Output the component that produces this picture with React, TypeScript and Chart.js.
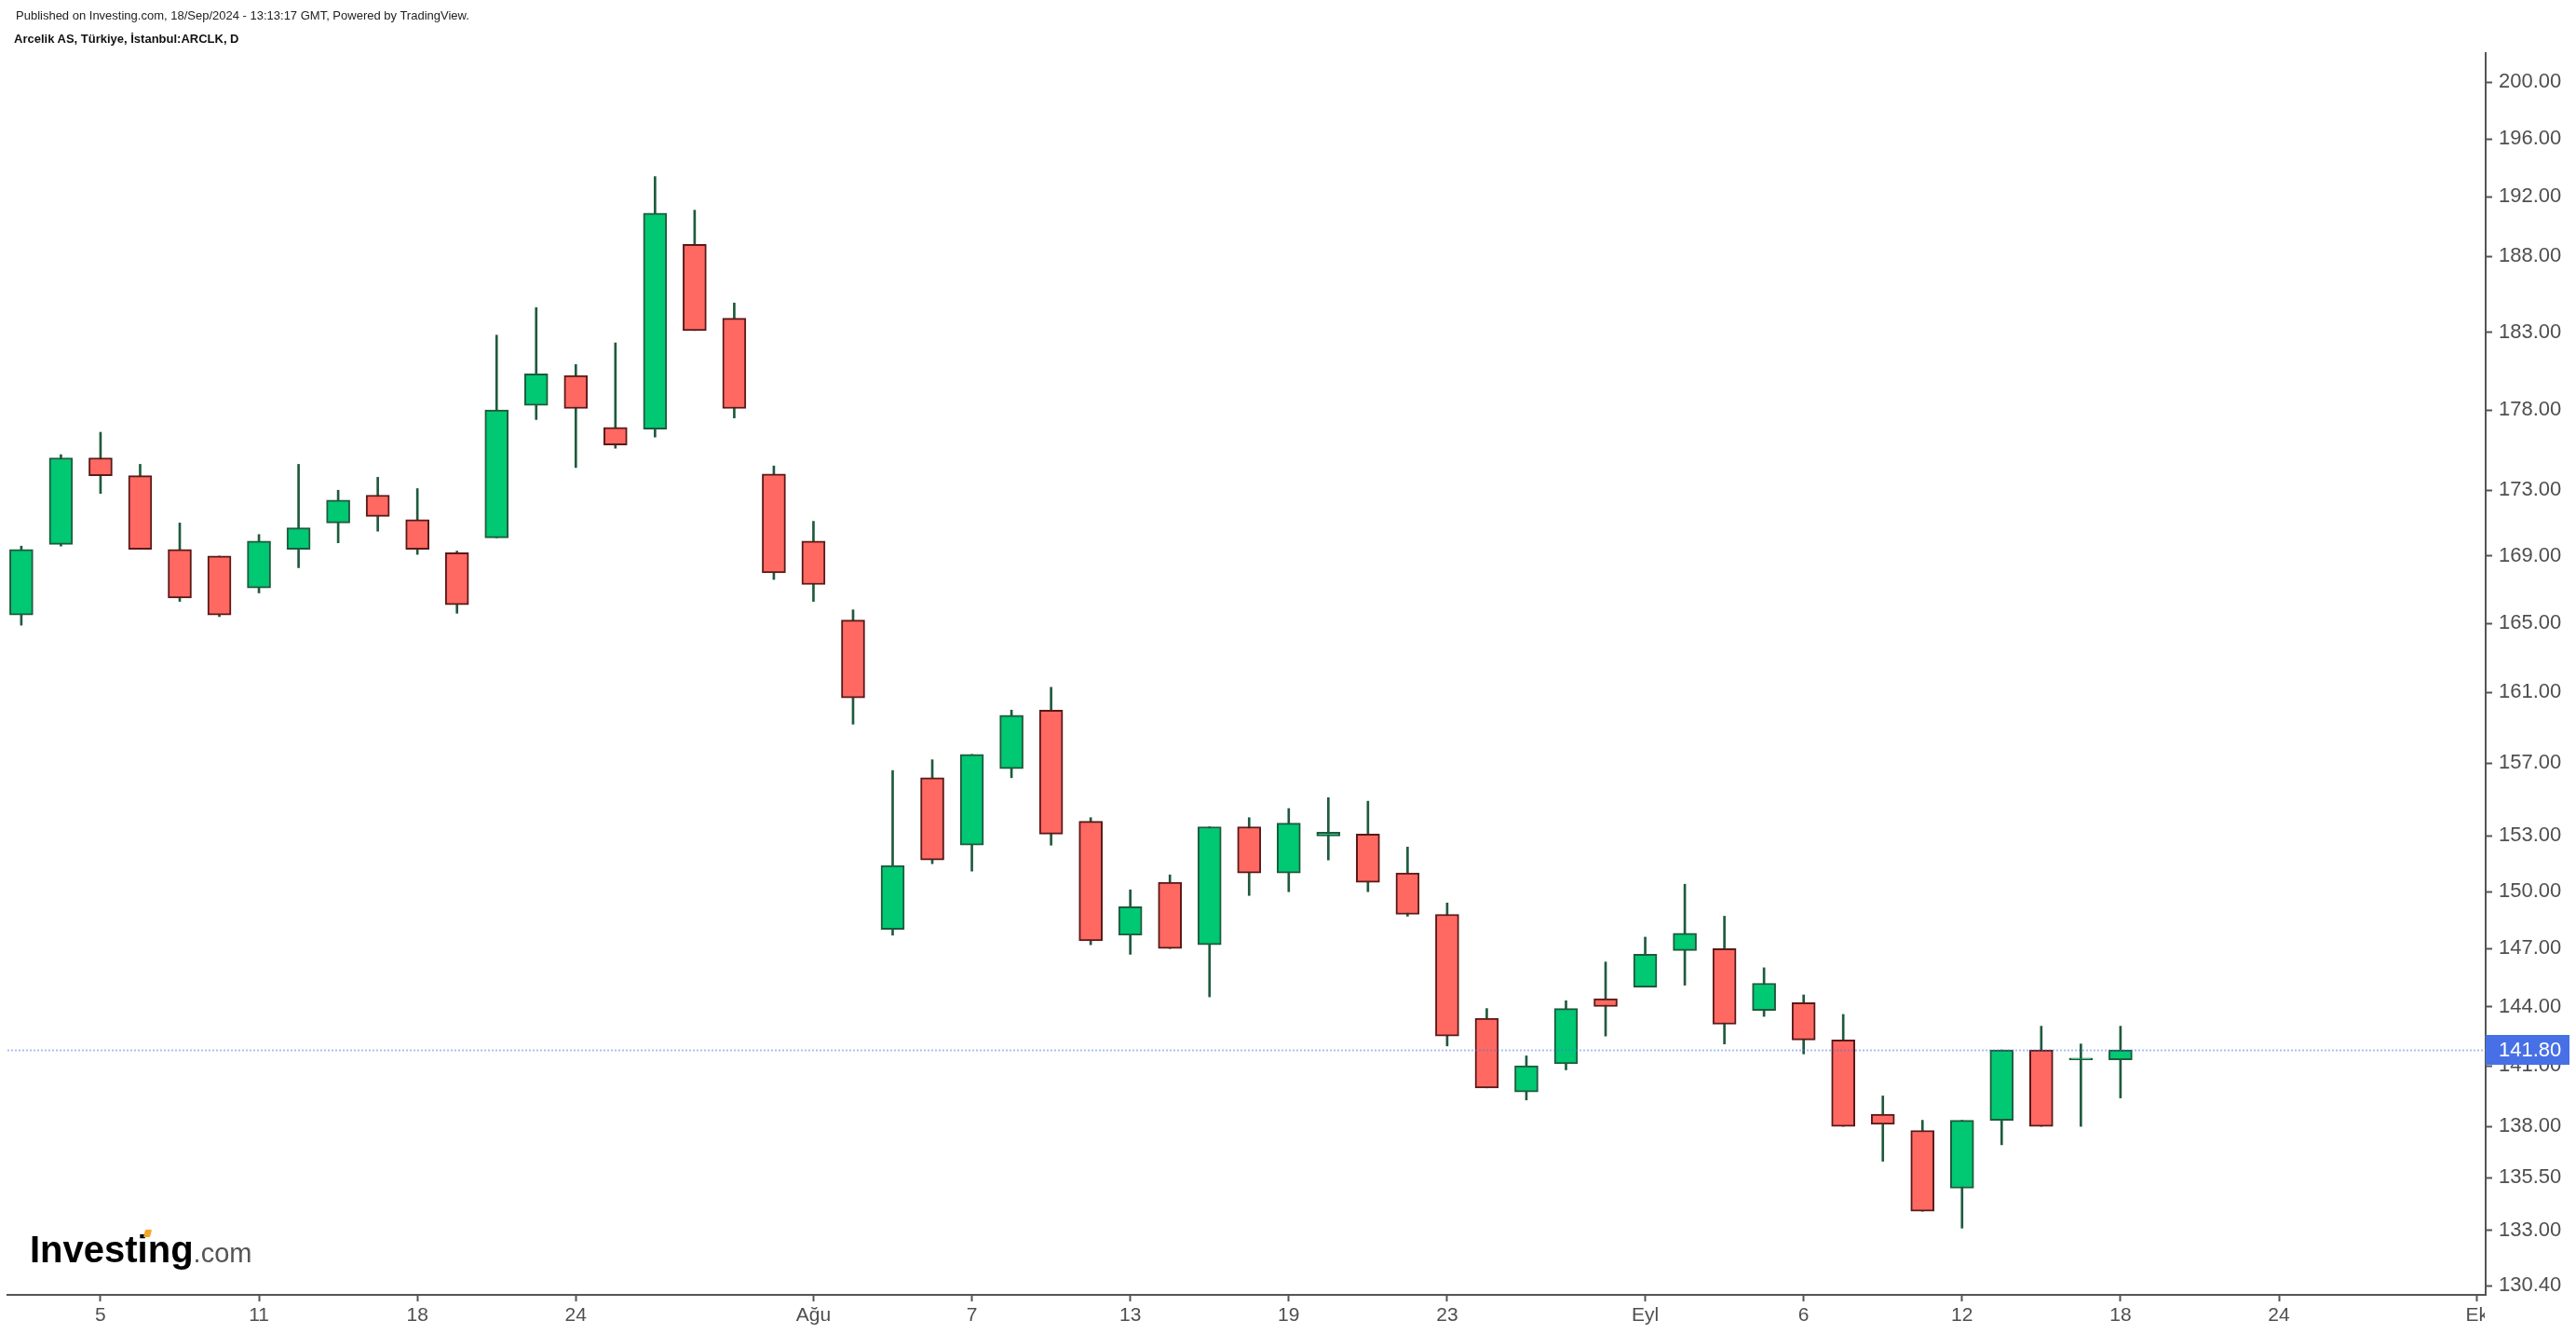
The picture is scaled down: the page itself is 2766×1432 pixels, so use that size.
import React, { useEffect, useRef } from "react";
import { Chart, registerables } from "chart.js";

Chart.register(...registerables);

// Trading days (index on the x axis = position in this list; later indices are future days)
const dates = [
  "2024-07-03", "2024-07-04", "2024-07-05", "2024-07-08", "2024-07-09", "2024-07-10", "2024-07-11", "2024-07-12",
  "2024-07-16", "2024-07-17", "2024-07-18", "2024-07-19", "2024-07-22", "2024-07-23", "2024-07-24", "2024-07-25",
  "2024-07-26", "2024-07-29", "2024-07-30", "2024-07-31", "2024-08-01", "2024-08-02", "2024-08-05", "2024-08-06",
  "2024-08-07", "2024-08-08", "2024-08-09", "2024-08-12", "2024-08-13", "2024-08-14", "2024-08-15", "2024-08-16",
  "2024-08-19", "2024-08-20", "2024-08-21", "2024-08-22", "2024-08-23", "2024-08-26", "2024-08-27", "2024-08-28",
  "2024-08-29", "2024-09-02", "2024-09-03", "2024-09-04", "2024-09-05", "2024-09-06", "2024-09-09", "2024-09-10",
  "2024-09-11", "2024-09-12", "2024-09-13", "2024-09-16", "2024-09-17", "2024-09-18",
];

const opens = [
  165.5, 169.7, 175.0, 173.9, 169.4, 169.0, 167.1, 169.4, 171.0, 172.7, 171.2, 169.2, 170.1, 178.3, 180.2, 176.9,
  176.8, 188.8, 183.9, 174.0, 169.9, 165.2, 148.0, 156.2, 152.5, 156.7, 160.0, 153.8, 147.7, 150.5, 147.2, 153.5,
  151.0, 153.0, 153.1, 151.0, 148.8, 143.4, 139.7, 141.1, 144.4, 145.0, 146.9, 147.0, 143.8, 144.2, 142.3, 138.6,
  137.8, 135.0, 138.3, 141.8, 141.3, 141.3,
];
const highs = [
  169.6, 175.2, 176.6, 174.6, 171.0, 169.0, 170.3, 174.6, 173.0, 173.8, 173.1, 169.3, 182.8, 184.6, 180.9, 182.3,
  193.4, 191.1, 184.9, 174.5, 171.1, 165.8, 156.6, 157.2, 157.5, 160.0, 161.3, 154.0, 150.1, 150.9, 153.5, 154.0,
  154.5, 155.1, 154.9, 152.4, 149.4, 143.9, 141.5, 144.3, 146.3, 147.6, 150.4, 148.7, 146.0, 144.6, 143.6, 139.5,
  138.3, 138.3, 141.8, 143.0, 142.1, 143.0,
];
const lows = [
  164.9, 169.6, 172.8, 169.4, 166.3, 165.4, 166.8, 168.3, 169.8, 170.5, 169.1, 165.6, 170.1, 177.4, 174.4, 175.6,
  176.3, 183.1, 177.5, 167.6, 166.3, 159.2, 147.7, 151.5, 151.1, 156.2, 152.5, 147.2, 146.7, 147.0, 144.5, 149.8,
  150.0, 151.7, 150.0, 148.7, 142.0, 139.9, 139.3, 140.8, 142.5, 145.0, 145.1, 142.1, 143.5, 141.6, 138.0, 136.3,
  133.9, 133.1, 137.1, 138.0, 138.0, 139.4,
];
const closes = [
  169.4, 175.0, 173.9, 169.4, 166.5, 165.5, 169.9, 170.7, 172.4, 171.4, 169.4, 166.1, 178.0, 180.3, 178.1, 175.8,
  190.9, 183.1, 178.1, 168.0, 167.3, 160.7, 151.4, 151.7, 157.5, 159.7, 153.1, 147.4, 149.2, 147.0, 153.5, 151.0,
  153.7, 153.2, 150.5, 148.8, 142.5, 139.9, 141.0, 143.9, 144.0, 146.7, 147.8, 143.1, 145.2, 142.3, 138.0, 138.1,
  133.9, 138.3, 141.8, 138.0, 141.3, 141.8,
];

const xTickPositions = [2, 6, 10, 14, 20, 24, 28, 32, 36, 41, 45, 49, 53, 57, 62];
const xTickLabels = ["5", "11", "18", "24", "Ağu", "7", "13", "19", "23", "Eyl", "6", "12", "18", "24", "Ek"];
const yTickValues = [200, 196, 192, 188, 183, 178, 173, 169, 165, 161, 157, 153, 150, 147, 144, 141, 138, 135.5, 133, 130.4];
const lastPrice = 141.8;

const FONT = '"Liberation Sans", Arial, Helvetica, sans-serif';
const UP_FILL = "#00c873";
const DOWN_FILL = "#ff6961";
const UP_LINE = "#1e5a3c";
const DOWN_LINE = "#5a1919";
const AXIS = "#555555";
const TEXT = "#4f4f4f";
const BLUE = "#4870e6";

const overlayPlugin = {
  id: "overlay",
  afterDatasetsDraw(chart: any) {
    const { ctx, chartArea } = chart;
    const y = chart.scales.y;
    const py = Math.round(y.getPixelForValue(lastPrice)) + 0.5;
    ctx.save();
    ctx.strokeStyle = "rgba(72,112,230,0.45)";
    ctx.lineWidth = 2;
    ctx.setLineDash([2, 2]);
    ctx.beginPath();
    ctx.moveTo(chartArea.left, py);
    ctx.lineTo(chartArea.right, py);
    ctx.stroke();
    ctx.restore();
  },
  afterDraw(chart: any) {
    const { ctx, chartArea, width, height } = chart;
    const y = chart.scales.y;
    ctx.save();
    // clip region below the axes on the right side
    ctx.fillStyle = "#ffffff";
    ctx.fillRect(chartArea.right + 2, chartArea.bottom - 3, width - chartArea.right, height - chartArea.bottom + 3);
    ctx.fillRect(chartArea.right - 1, chartArea.bottom + 2, width - chartArea.right, height - chartArea.bottom);
    // last price label
    const py = y.getPixelForValue(lastPrice);
    ctx.fillStyle = BLUE;
    ctx.fillRect(chartArea.right, Math.round(py - 16), 90, 32);
    ctx.fillStyle = "#ffffff";
    ctx.font = `22px ${FONT}`;
    ctx.textBaseline = "middle";
    ctx.textAlign = "left";
    ctx.fillText(lastPrice.toFixed(2), chartArea.right + 14, py + 1);
    ctx.restore();
  },
};

export default function App() {
  const canvasRef = useRef<HTMLCanvasElement | null>(null);

  useEffect(() => {
    if (!canvasRef.current) return;
    const up = dates.map((_, i) => closes[i] >= opens[i]);
    const chart = new Chart(canvasRef.current, {
      type: "bar",
      data: {
        datasets: [
          {
            label: "wick",
            data: dates.map((_, i) => ({ x: i, y: [lows[i], highs[i]] })) as any,
            backgroundColor: UP_LINE,
            borderWidth: 0,
            barThickness: 2,
            grouped: false,
            order: 2,
          } as any,
          {
            label: "body",
            data: dates.map((_, i) => ({ x: i, y: [opens[i], closes[i]] })) as any,
            backgroundColor: up.map((u) => (u ? UP_FILL : DOWN_FILL)),
            borderColor: up.map((u) => (u ? UP_LINE : DOWN_LINE)),
            borderWidth: 2,
            borderSkipped: false,
            barThickness: 25,
            minBarLength: 2,
            grouped: false,
            order: 1,
          } as any,
        ],
      },
      options: {
        animation: false,
        responsive: false,
        events: [],
        layout: { padding: { left: 8, top: 57, right: 0, bottom: 0 } },
        plugins: { legend: { display: false }, tooltip: { enabled: false } },
        scales: {
          x: {
            type: "linear",
            min: -0.35,
            max: 62.22,
            bounds: "data",
            offset: false,
            grid: { drawOnChartArea: false, drawTicks: true, tickLength: 7, tickWidth: 2, tickColor: AXIS, offset: false },
            border: { display: true, color: AXIS, width: 2 },
            ticks: {
              autoSkip: false,
              maxRotation: 0,
              padding: 3,
              color: TEXT,
              font: { family: FONT, size: 21 },
              callback: (v: any) => {
                const k = xTickPositions.indexOf(Number(v));
                return k >= 0 ? xTickLabels[k] : "";
              },
            },
            afterBuildTicks: (s: any) => {
              s.ticks = xTickPositions.map((v) => ({ value: v }));
            },
            afterFit: (s: any) => {
              s.height = 42;
            },
          } as any,
          y: {
            type: "logarithmic",
            position: "right",
            min: 129.98,
            max: 202.07,
            bounds: "data",
            grid: { drawOnChartArea: false, drawTicks: true, tickLength: 7, tickWidth: 2, tickColor: AXIS },
            border: { display: true, color: AXIS, width: 2 },
            ticks: {
              autoSkip: false,
              padding: 7,
              color: TEXT,
              font: { family: FONT, size: 22 },
              callback: (v: any) => Number(v).toFixed(2),
            },
            afterBuildTicks: (s: any) => {
              s.ticks = yTickValues.map((v) => ({ value: v }));
            },
            afterFit: (s: any) => {
              s.width = 97;
            },
          } as any,
        },
      },
      plugins: [overlayPlugin],
    });
    return () => chart.destroy();
  }, []);

  return (
    <div style={{ position: "fixed", left: 0, top: 0, width: 2766, height: 1432, background: "#ffffff", overflow: "hidden" }}>
      <canvas ref={canvasRef} width={2766} height={1432} style={{ position: "absolute", left: 0, top: 0, width: 2766, height: 1432 }} />
      <div style={{ position: "absolute", left: 17, top: 10, font: `13px/13px ${FONT}`, color: "#222", whiteSpace: "nowrap" }}>
        Published on Investing.com, 18/Sep/2024 - 13:13:17 GMT, Powered by TradingView.
      </div>
      <div style={{ position: "absolute", left: 15, top: 35, font: `bold 13px/13px ${FONT}`, color: "#111", whiteSpace: "nowrap" }}>
        Arcelik AS, Türkiye, İstanbul:ARCLK, D
      </div>
      <div style={{ position: "absolute", left: 32, top: 1321, font: `bold 40px/40px ${FONT}`, color: "#000", whiteSpace: "nowrap" }}>
        Investing<span style={{ font: `29px ${FONT}`, color: "#555" }}>.com</span>
      </div>
      <div style={{ position: "absolute", left: 155, top: 1320, width: 7, height: 8, background: "#f5a623", transform: "skewX(-15deg)", borderRadius: 1 }} />
    </div>
  );
}
